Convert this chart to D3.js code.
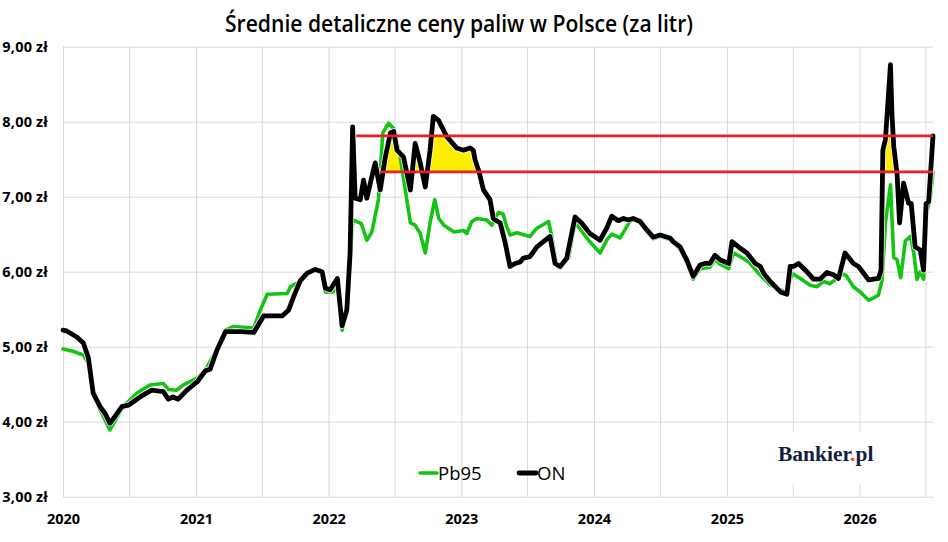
<!DOCTYPE html>
<html><head><meta charset="utf-8">
<script src="https://cdn.jsdelivr.net/npm/d3@7"></script>
<style>
html,body{margin:0;padding:0;background:#fff;}
svg{display:block;}
</style></head>
<body>
<svg id="c" width="948" height="542"></svg>
<script>
const title = "Średnie detaliczne ceny paliw w Polsce (za litr)";
const yTicks = [3,4,5,6,7,8,9];
const yearLabels = [2020,2021,2022,2023,2024,2025,2026];
const seriesNames = ["Pb95","ON"];

const onDates = ["2020-01-01","2020-01-11","2020-02-08","2020-02-26","2020-03-11","2020-03-24","2020-04-12","2020-04-26","2020-05-09","2020-05-23","2020-06-11","2020-06-29","2020-07-31","2020-09-01","2020-10-03","2020-10-17","2020-10-30","2020-11-13","2020-12-07",
"2021-01-04","2021-01-27","2021-02-09","2021-02-28","2021-03-23","2021-05-03","2021-06-09","2021-07-06","2021-08-26","2021-09-13","2021-09-27","2021-10-15","2021-11-03","2021-11-25","2021-12-14","2021-12-23",
"2022-01-05","2022-01-25","2022-02-07","2022-02-20","2022-03-01","2022-03-08","2022-03-15","2022-03-29","2022-04-07","2022-04-16","2022-04-30","2022-05-09","2022-05-23","2022-06-06","2022-06-20","2022-06-29","2022-07-08","2022-07-26","2022-08-14","2022-08-27","2022-09-10","2022-09-24","2022-10-07","2022-10-16","2022-10-30","2022-11-22","2022-12-19",
"2023-01-07","2023-01-25","2023-02-03","2023-02-08","2023-02-17","2023-02-22","2023-03-03","2023-03-21","2023-03-30","2023-04-18","2023-05-02","2023-05-15","2023-05-29","2023-06-12","2023-06-21","2023-07-09","2023-07-28","2023-08-15","2023-09-02","2023-09-16","2023-09-30","2023-10-18","2023-11-10","2023-11-28","2023-12-21",
"2024-01-18","2024-02-05","2024-02-19","2024-03-08","2024-03-22","2024-04-05","2024-04-18","2024-05-07","2024-05-25","2024-06-12","2024-07-01","2024-07-28","2024-08-06","2024-08-25","2024-09-12","2024-09-30","2024-10-19","2024-11-01","2024-11-15","2024-11-29","2024-12-13",
"2025-01-06","2025-01-15","2025-02-02","2025-02-25","2025-03-20","2025-04-03","2025-04-12","2025-04-30","2025-05-28","2025-06-15","2025-06-24","2025-07-03","2025-07-17","2025-08-09","2025-08-27","2025-09-14","2025-10-03","2025-10-21","2025-11-04","2025-11-22","2025-12-15","2025-12-29",
"2026-01-12","2026-01-26","2026-02-09","2026-02-22","2026-03-01","2026-03-06","2026-03-13","2026-03-27","2026-03-31","2026-04-05","2026-04-14","2026-04-21","2026-05-02","2026-05-16","2026-05-23","2026-06-03","2026-06-17","2026-06-26","2026-07-03","2026-07-10","2026-07-22"];
const onValues = [5.22,5.21,5.13,5.05,4.85,4.38,4.20,4.11,3.98,4.07,4.20,4.22,4.33,4.42,4.40,4.30,4.33,4.30,4.42,
4.53,4.68,4.70,4.96,5.20,5.20,5.19,5.41,5.41,5.49,5.67,5.88,5.98,6.03,6.00,5.78,
5.76,5.91,5.28,5.49,6.25,7.93,6.98,6.96,7.22,6.98,7.27,7.45,7.09,7.53,7.85,7.87,7.62,7.53,7.09,7.71,7.45,7.13,7.62,8.07,8.02,7.80,7.65,
7.62,7.65,7.62,7.49,7.36,7.27,7.09,6.96,6.71,6.65,6.38,6.07,6.11,6.13,6.18,6.20,6.33,6.40,6.47,6.11,6.07,6.18,6.73,6.65,6.51,
6.42,6.58,6.74,6.68,6.71,6.69,6.71,6.67,6.56,6.46,6.49,6.45,6.40,6.33,6.16,5.94,6.09,6.11,6.11,6.22,6.16,
6.11,6.40,6.33,6.25,6.11,6.07,5.98,5.87,5.73,5.70,6.07,6.07,6.11,6.00,5.90,5.90,5.99,5.96,5.91,6.25,6.11,6.07,
5.98,5.89,5.90,5.91,6.02,7.62,7.76,8.76,8.11,7.67,7.31,6.65,7.18,6.91,6.91,6.33,6.29,6.02,6.91,6.93,7.81];

const pbDates = ["2020-01-01","2020-01-28","2020-02-26","2020-03-11","2020-03-24","2020-04-12","2020-05-09","2020-05-28","2020-06-14","2020-07-22","2020-08-27","2020-10-03","2020-10-17","2020-11-09","2020-11-27",
"2021-01-04","2021-01-27","2021-02-28","2021-03-23","2021-04-15","2021-06-09","2021-06-27","2021-07-16","2021-09-09","2021-09-18","2021-10-15","2021-11-03","2021-11-25","2021-12-14","2021-12-23",
"2022-01-14","2022-01-25","2022-02-07","2022-02-20","2022-03-01","2022-03-09","2022-04-01","2022-04-16","2022-04-30","2022-05-18","2022-05-30","2022-06-15","2022-06-29","2022-07-17","2022-07-31","2022-08-14","2022-08-27","2022-09-10","2022-09-24","2022-10-07","2022-10-20","2022-10-31","2022-11-14","2022-12-12",
"2023-01-07","2023-01-16","2023-01-30","2023-02-13","2023-03-12","2023-03-26","2023-04-13","2023-04-26","2023-05-06","2023-05-15","2023-06-03","2023-07-09","2023-07-28","2023-08-29","2023-09-07","2023-09-21","2023-09-30","2023-10-23","2023-11-10","2023-11-24","2023-12-17",
"2024-01-18","2024-02-05","2024-02-19","2024-03-13","2024-04-09","2024-04-18","2024-05-07","2024-05-25","2024-06-12","2024-07-01","2024-07-28","2024-08-25","2024-09-12","2024-09-30","2024-10-19","2024-11-15","2024-11-29","2024-12-13",
"2025-01-06","2025-01-19","2025-02-07","2025-03-02","2025-03-25","2025-04-30","2025-05-28","2025-06-15","2025-06-29","2025-07-22","2025-08-18","2025-09-06","2025-09-24","2025-10-12","2025-11-14","2025-11-25","2025-12-15",
"2026-01-03","2026-01-26","2026-02-09","2026-02-22","2026-03-04","2026-03-13","2026-03-27","2026-04-05","2026-04-14","2026-04-24","2026-05-07","2026-05-21","2026-05-30","2026-06-08","2026-06-17","2026-06-26","2026-07-05","2026-07-14","2026-07-22"];
const pbValues = [4.97,4.94,4.89,4.78,4.38,4.16,3.89,4.05,4.20,4.38,4.49,4.51,4.43,4.42,4.49,
4.58,4.69,4.97,5.22,5.27,5.25,5.49,5.70,5.71,5.80,5.87,5.97,6.02,5.99,5.73,
5.73,5.89,5.22,5.45,6.20,6.69,6.64,6.42,6.53,6.96,7.85,7.98,7.91,7.53,7.09,6.65,6.62,6.51,6.25,6.65,6.96,6.71,6.62,6.53,
6.55,6.51,6.67,6.71,6.69,6.62,6.79,6.77,6.60,6.49,6.52,6.47,6.58,6.67,6.47,6.07,6.05,6.18,6.65,6.57,6.42,
6.25,6.42,6.50,6.45,6.67,6.69,6.69,6.54,6.44,6.47,6.43,6.30,6.12,5.90,6.04,6.06,6.16,6.10,
6.04,6.25,6.20,6.13,6.00,5.82,5.76,5.73,5.98,5.91,5.82,5.80,5.87,5.84,5.97,5.95,5.80,
5.73,5.62,5.65,5.69,5.89,6.65,7.16,6.19,6.16,5.92,6.41,6.47,6.25,5.90,6.00,5.90,6.80,6.96,7.33];

const refValues = [7.81, 7.33];
const refStarts = ["2022-03-18","2022-05-23"];
const domainDates = ["2020-01-01","2026-07-22"];

const parse = d3.timeParse("%Y-%m-%d");
const onData = onDates.map((d,i)=>({d:parse(d), v:onValues[i]}));
const pbData = pbDates.map((d,i)=>({d:parse(d), v:pbValues[i]}));

const L=63, R=933, T=46.7, B=496.7;
const x = d3.scaleTime().domain(domainDates.map(parse)).range([L,R]);
const y = d3.scaleLinear().domain([3,9]).range([B,T]);

const svg = d3.select("#c");
const fmt = v => d3.format(".2f")(v).replace(".", ",") + " zł";
const font = "'Open Sans', 'Liberation Sans', sans-serif";

// horizontal gridlines + labels
const yAxis = d3.axisLeft(y).tickValues(yTicks).tickSize(-(R-L)).tickPadding(15).tickFormat(fmt);
const gy = svg.append("g").attr("transform",`translate(${L},0)`).call(yAxis);
gy.select(".domain").remove();
gy.selectAll(".tick line").attr("stroke","#d9d9d9").attr("stroke-width",1);
gy.selectAll(".tick text").attr("fill","#000").style("font-family",font).style("font-weight","700")
  .style("font-size","14.5px").style("letter-spacing","0.2px");

// vertical gridlines (half years) + year labels
const halfYears = d3.timeMonth.every(6).range(parse("2020-01-01"), parse("2026-07-02"));
const xAxis = d3.axisBottom(x).tickValues(halfYears).tickSize(-(B-T)).tickPadding(17)
  .tickFormat(d => d.getMonth()===0 && yearLabels.includes(d.getFullYear()) ? String(d.getFullYear()) : "");
const gx = svg.append("g").attr("transform",`translate(0,${B})`).call(xAxis);
gx.select(".domain").remove();
gx.selectAll(".tick line").attr("stroke","#d9d9d9").attr("stroke-width",1);
gx.selectAll(".tick text").attr("fill","#000").style("font-family",font).style("font-weight","700").style("font-size","14.5px");

// yellow band fill
const x0 = x(parse(refStarts[1]));
svg.append("clipPath").attr("id","band").append("rect")
  .attr("x",x0).attr("y",y(refValues[0])).attr("width",R-x0).attr("height",y(refValues[1])-y(refValues[0]));
const area = d3.area().x(d=>x(d.d)).y0(y(refValues[1])).y1(d=>y(d.v));
svg.append("path").datum(onData).attr("d",area).attr("fill","#ffee00").attr("clip-path","url(#band)");

// lines
const line = d3.line().x(d=>x(d.d)).y(d=>y(d.v));
svg.append("path").datum(pbData).attr("d",line).attr("fill","none").attr("stroke","#14c414")
  .attr("stroke-width",3.6).attr("stroke-linejoin","round").attr("stroke-linecap","round");
svg.append("path").datum(onData).attr("d",line).attr("fill","none").attr("stroke","#fff")
  .attr("stroke-width",6.5).attr("stroke-linejoin","round").attr("opacity",0.8);
svg.append("path").datum(onData).attr("d",line).attr("fill","none").attr("stroke","#000")
  .attr("stroke-width",4.8).attr("stroke-linejoin","round").attr("stroke-linecap","round");

// red reference lines
svg.selectAll(".ref").data(refValues).join("line").attr("class","ref")
  .attr("x1",(d,i)=>x(parse(refStarts[i]))).attr("x2",R)
  .attr("y1",d=>y(d)).attr("y2",d=>y(d))
  .attr("stroke","#ee1c25").attr("stroke-width",2.8);

// title
svg.append("text").attr("x",459).attr("y",32).attr("text-anchor","middle")
  .style("font-family",font).style("font-weight","600").style("font-size","23.5px")
  .attr("textLength",468).attr("lengthAdjust","spacingAndGlyphs").text(title);

// legend
const leg = [{n:seriesNames[0], c:"#14c414", w:3.6, x:420},{n:seriesNames[1], c:"#000", w:4.8, x:519}];
leg.forEach(l=>{
  svg.append("line").attr("x1",l.x).attr("x2",l.x+17).attr("y1",473).attr("y2",473)
    .attr("stroke",l.c).attr("stroke-width",l.w).attr("stroke-linecap","round");
  svg.append("text").attr("x",l.x+18).attr("y",480).style("font-family",font)
    .style("font-size","18.5px").attr("fill","#000").text(l.n);
});

// logo
svg.append("rect").attr("x",768).attr("y",432).attr("width",114).attr("height",52).attr("fill","#fff");
const logo = svg.append("text").attr("x",778).attr("y",461)
  .style("font-family","'Liberation Serif', 'DejaVu Serif', serif").style("font-weight","700").style("font-size","21.5px")
  .attr("fill","#13213f");
logo.append("tspan").text("Bankier");
logo.append("tspan").attr("fill","#f04e23").text(".");
logo.append("tspan").text("pl");
</script>
</body></html>
